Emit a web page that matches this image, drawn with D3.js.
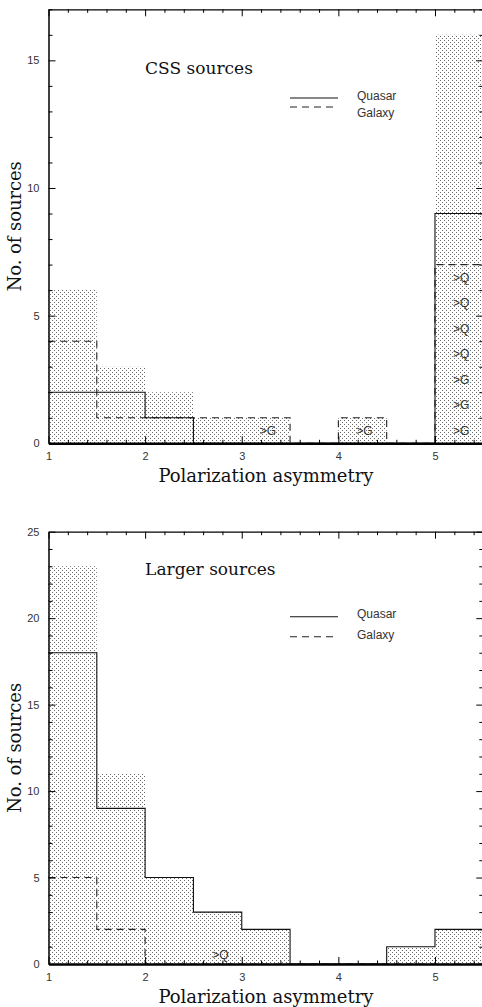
<!DOCTYPE html>
<html>
<head>
<meta charset="utf-8">
<script src="https://cdn.jsdelivr.net/npm/d3@7"></script>
<style>
body { margin: 0; background: #fff; }
svg { display: block; }
.tick text { font-family: "Liberation Sans", Arial, sans-serif; font-size: 11px; fill: #333; }
.serif { font-family: "DejaVu Serif", serif; fill: #111; }
.sans { font-family: "Liberation Sans", Arial, sans-serif; fill: #333; }
</style>
</head>
<body>
<div id="chart"></div>
<script>
// bins of polarization asymmetry, 0.5 wide
var binStarts = [1, 1.5, 2, 2.5, 3, 3.5, 4, 4.5, 5];
var binWidth = 0.5;
var xMajorTicks = [1, 2, 3, 4, 5];

// CSS sources
var cssQuasar = [2, 2, 1, 0, 0, 0, 0, 0, 9];
var cssGalaxy = [4, 1, 1, 1, 1, 0, 1, 0, 7];
var cssTotal  = [6, 3, 2, 1, 1, 0, 1, 0, 16];
var cssLimits = [
  {x: 3.27, y: 0.5, text: ">G"}, {x: 4.27, y: 0.5, text: ">G"},
  {x: 5.27, y: 0.5, text: ">G"}, {x: 5.27, y: 1.5, text: ">G"}, {x: 5.27, y: 2.5, text: ">G"},
  {x: 5.27, y: 3.5, text: ">Q"}, {x: 5.27, y: 4.5, text: ">Q"},
  {x: 5.27, y: 5.5, text: ">Q"}, {x: 5.27, y: 6.5, text: ">Q"}
];

// Larger sources
var largeQuasar = [18, 9, 5, 3, 2, 0, 0, 1, 2];
var largeGalaxy = [5, 2, 0, 0, 0, 0, 0, 0, 0];
var largeTotal  = [23, 11, 5, 3, 2, 0, 0, 1, 2];
var largeLimits = [{x: 2.78, y: 0.55, text: ">Q"}];

var width = 482, height = 1007;

var svg = d3.select("#chart").append("svg")
  .attr("width", width)
  .attr("height", height);

var pat = svg.append("defs").append("pattern")
  .attr("id", "dots")
  .attr("patternUnits", "userSpaceOnUse")
  .attr("width", 4).attr("height", 4);
pat.append("rect").attr("x", 0).attr("y", 0).attr("width", 1).attr("height", 1).attr("fill", "#6a6a6a");
pat.append("rect").attr("x", 2).attr("y", 2).attr("width", 1).attr("height", 1).attr("fill", "#6a6a6a");

var x = d3.scaleLinear().domain([1, 5.5]).range([48.5, 483.3]);

var xMinorTicks = d3.range(10, 56, 2).map(function(d){ return d / 10; })
  .filter(function(d){ return d % 1 !== 0; });

function drawPanel(p) {
  var y = d3.scaleLinear().domain([0, p.yMax]).range([p.bottom, p.top]);
  var g = svg.append("g");

  function pts(counts) {
    var a = binStarts.map(function(b, i){ return [b, counts[i]]; });
    a.push([binStarts[binStarts.length - 1] + binWidth, counts[counts.length - 1]]);
    return a;
  }

  var area = d3.area()
    .x(function(d){ return x(d[0]); })
    .y0(y(0))
    .y1(function(d){ return y(d[1]); })
    .curve(d3.curveStepAfter);

  var line = d3.line()
    .x(function(d){ return x(d[0]); })
    .y(function(d){ return y(d[1]); })
    .curve(d3.curveStepAfter);

  g.append("path").attr("d", area(pts(p.total))).attr("fill", "url(#dots)");

  g.append("path").attr("d", line(pts(p.galaxy)))
    .attr("fill", "none").attr("stroke", "#222").attr("stroke-width", 1.1)
    .attr("stroke-dasharray", "7,5");
  g.append("path").attr("d", line(pts(p.quasar)))
    .attr("fill", "none").attr("stroke", "#111").attr("stroke-width", 1.1);

  g.selectAll("text.lim").data(p.limits).enter().append("text")
    .attr("class", "sans lim")
    .attr("x", function(d){ return x(d.x); })
    .attr("y", function(d){ return y(d.y); })
    .attr("dy", "0.35em")
    .attr("text-anchor", "middle")
    .style("font-size", "12px")
    .text(function(d){ return d.text; });

  // axes
  function styleAxis(a, w) {
    a.select(".domain").attr("stroke", "#000").attr("stroke-width", w);
    a.selectAll(".tick line").attr("stroke", "#000").attr("stroke-width", 1);
  }

  var yMinor = d3.range(0, p.yMax + 1).filter(function(d){ return d % 5 !== 0; });
  var yMajor = d3.range(0, p.yMax + 1, 5);

  var bot = g.append("g").attr("transform", "translate(0," + p.bottom + ")");
  bot.call(d3.axisBottom(x).tickValues(xMinorTicks).tickSizeInner(-3.5).tickSizeOuter(0).tickFormat(""));
  bot.select(".domain").remove();
  bot.selectAll(".tick line").attr("stroke", "#000");
  var botM = g.append("g").attr("transform", "translate(0," + p.bottom + ")");
  botM.call(d3.axisBottom(x).tickValues(xMajorTicks).tickSizeInner(-7).tickSizeOuter(0)
    .tickPadding(9).tickFormat(d3.format("d")));
  styleAxis(botM, 2.5);

  var top = g.append("g").attr("transform", "translate(0," + p.top + ")");
  top.call(d3.axisTop(x).tickValues(xMinorTicks).tickSizeInner(-3.5).tickSizeOuter(0).tickFormat(""));
  top.select(".domain").remove();
  top.selectAll(".tick line").attr("stroke", "#000");
  var topM = g.append("g").attr("transform", "translate(0," + p.top + ")");
  topM.call(d3.axisTop(x).tickValues(xMajorTicks).tickSizeInner(-7).tickSizeOuter(0).tickFormat(""));
  styleAxis(topM, 1.2);

  var left = g.append("g").attr("transform", "translate(" + x(1) + ",0)");
  left.call(d3.axisLeft(y).tickValues(yMinor).tickSizeInner(-4).tickSizeOuter(0).tickFormat(""));
  left.select(".domain").remove();
  left.selectAll(".tick line").attr("stroke", "#000");
  var leftM = g.append("g").attr("transform", "translate(" + x(1) + ",0)");
  leftM.call(d3.axisLeft(y).tickValues(yMajor).tickSizeInner(-7).tickSizeOuter(0)
    .tickPadding(9).tickFormat(d3.format("d")));
  styleAxis(leftM, 1.5);

  var right = g.append("g").attr("transform", "translate(" + x(5.5) + ",0)");
  right.call(d3.axisRight(y).tickValues(yMinor).tickSizeInner(-4).tickSizeOuter(0).tickFormat(""));
  right.select(".domain").remove();
  right.selectAll(".tick line").attr("stroke", "#000");
  var rightM = g.append("g").attr("transform", "translate(" + x(5.5) + ",0)");
  rightM.call(d3.axisRight(y).tickValues(yMajor).tickSizeInner(-7).tickSizeOuter(0).tickFormat(""));
  styleAxis(rightM, 1.2);

  // titles and labels
  g.append("text").attr("class", "serif")
    .attr("x", x(2)).attr("y", p.top + p.titleDy)
    .style("font-size", "17px")
    .text(p.title);

  g.append("text").attr("class", "serif")
    .attr("x", (x(1) + x(5.5)) / 2).attr("y", p.bottom + 39)
    .attr("text-anchor", "middle")
    .attr("textLength", 215).attr("lengthAdjust", "spacing")
    .style("font-size", "18px")
    .text("Polarization asymmetry");

  g.append("text").attr("class", "serif")
    .attr("transform", "translate(21," + ((p.top + p.bottom) / 2) + ") rotate(-90)")
    .attr("text-anchor", "middle")
    .attr("textLength", 130).attr("lengthAdjust", "spacing")
    .style("font-size", "18px")
    .text("No. of sources");

  // legend
  var lx0 = 290, lx1 = 338, tx = 357;
  g.append("line").attr("x1", lx0).attr("x2", lx1)
    .attr("y1", p.top + p.legSolid).attr("y2", p.top + p.legSolid)
    .attr("stroke", "#111").attr("stroke-width", 1.1);
  g.append("line").attr("x1", lx0).attr("x2", lx1 - 4)
    .attr("y1", p.top + p.legDash).attr("y2", p.top + p.legDash)
    .attr("stroke", "#222").attr("stroke-width", 1.1).attr("stroke-dasharray", "7,5");
  g.append("text").attr("class", "sans").attr("x", tx).attr("y", p.top + p.legQText)
    .style("font-size", "12px").text("Quasar");
  g.append("text").attr("class", "sans").attr("x", tx).attr("y", p.top + p.legGText)
    .style("font-size", "12px").text("Galaxy");
}

drawPanel({
  title: "CSS sources", top: 9.3, bottom: 443.3, yMax: 17,
  quasar: cssQuasar, galaxy: cssGalaxy, total: cssTotal, limits: cssLimits,
  titleDy: 64.7, legSolid: 88.7, legDash: 97.7, legQText: 90.7, legGText: 107.7
});

drawPanel({
  title: "Larger sources", top: 531.7, bottom: 964, yMax: 25,
  quasar: largeQuasar, galaxy: largeGalaxy, total: largeTotal, limits: largeLimits,
  titleDy: 43.3, legSolid: 85, legDash: 105, legQText: 86.3, legGText: 107.3
});
</script>
</body>
</html>
